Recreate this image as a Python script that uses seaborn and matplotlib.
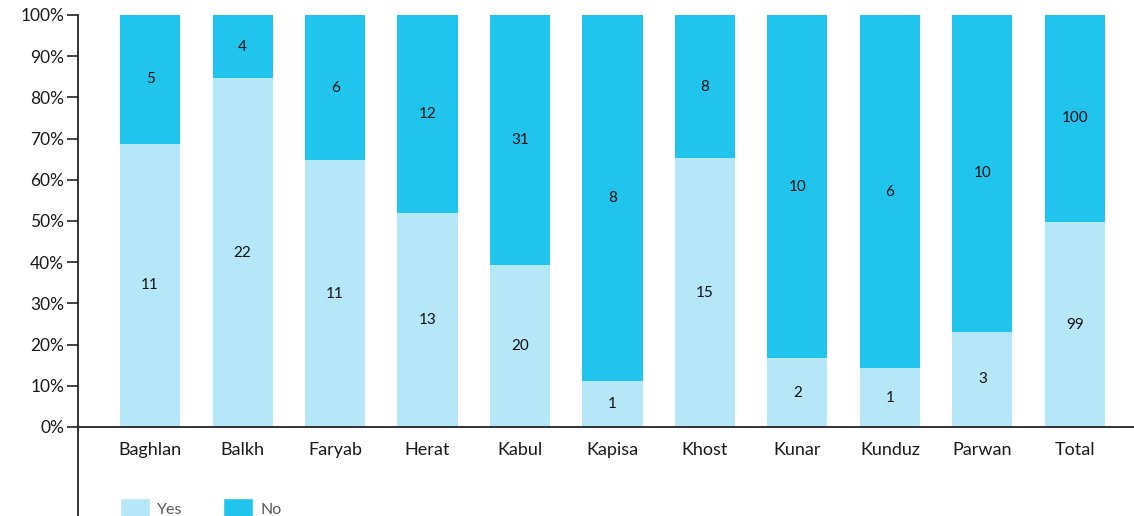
import numpy as np
import pandas as pd
import matplotlib.pyplot as plt
import seaborn as sns
from matplotlib.patches import Patch
from matplotlib.ticker import PercentFormatter

# data
provinces = ['Baghlan', 'Balkh', 'Faryab', 'Herat', 'Kabul', 'Kapisa',
             'Khost', 'Kunar', 'Kunduz', 'Parwan', 'Total']
yes_counts = [11, 22, 11, 13, 20, 1, 15, 2, 1, 3, 99]
no_counts = [5, 4, 6, 12, 31, 8, 8, 10, 6, 10, 100]

df = pd.DataFrame({'Province': provinces, 'Yes': yes_counts, 'No': no_counts})
df['Total'] = df['Yes'] + df['No']
df['YesShare'] = df['Yes'] / df['Total']
df['Full'] = 1.0

yes_color = '#b5e7f9'
no_color = '#21c4ec'

sns.set_style('white')
plt.rcParams['font.family'] = ['Lato', 'DejaVu Sans']

fig = plt.figure(figsize=(11.34, 5.16), dpi=100)
ax = fig.add_axes([0.0688, 0.1725, 0.9312, 0.7985])

# "No" bar spans the whole column, "Yes" is drawn over its lower part
sns.barplot(data=df, x='Province', y='Full', color=no_color, width=0.65,
            saturation=1, linewidth=0, ax=ax)
sns.barplot(data=df, x='Province', y='YesShare', color=yes_color, width=0.65,
            saturation=1, linewidth=0, ax=ax)

# count labels at the centre of each segment
for i, row in df.iterrows():
    ax.text(i, row['YesShare'] / 2, str(row['Yes']), ha='center', va='center',
            fontsize=11, color='#111111')
    ax.text(i, (1 + row['YesShare']) / 2, str(row['No']), ha='center',
            va='center', fontsize=11, color='#111111')

ax.set_ylim(0, 1.0)
ax.set_xlim(-0.78, 10.64)
ax.set_yticks(np.arange(0, 1.01, 0.1))
ax.yaxis.set_major_formatter(PercentFormatter(1.0, decimals=0))
ax.set_xlabel('')
ax.set_ylabel('')

for s in ['top', 'right']:
    ax.spines[s].set_visible(False)
for s in ['left', 'bottom']:
    ax.spines[s].set_color('#222222')
    ax.spines[s].set_linewidth(1.3)

ax.tick_params(axis='y', left=True, length=8, width=1.2, color='#222222',
               labelsize=12.5, labelcolor='#1a1a1a', pad=2)
ax.tick_params(axis='x', bottom=False, labelsize=13, labelcolor='#1a1a1a',
               pad=7)

# left axis line continues down below the category labels
ax.plot([-0.78, -0.78], [0, -0.25], color='#222222', lw=1.3,
        transform=ax.transData, clip_on=False)

handles = [Patch(facecolor=yes_color, label='Yes'),
           Patch(facecolor=no_color, label='No')]
fig.legend(handles=handles, loc='upper left', bbox_to_anchor=(0.093, 0.063),
           ncol=2, frameon=False, fontsize=11.5, handlelength=1.9,
           handleheight=1.65, handletextpad=0.45, columnspacing=2.5,
           labelcolor='#595959')

fig.savefig('out.png', dpi=100)
